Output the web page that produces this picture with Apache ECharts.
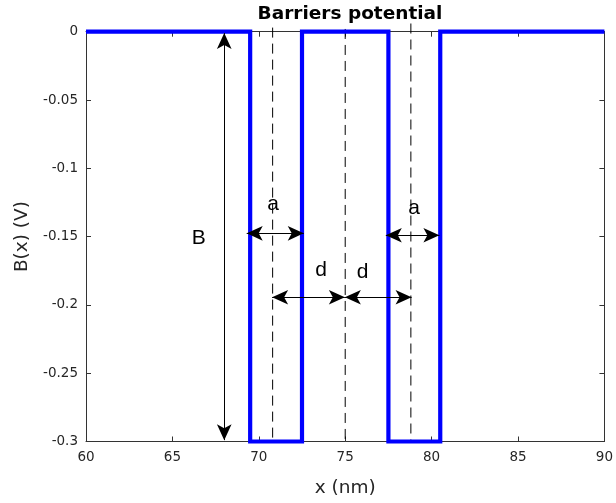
<!DOCTYPE html>
<html><head><meta charset="utf-8">
<script src="https://cdn.jsdelivr.net/npm/echarts@6/dist/echarts.min.js"></script>
<style>html,body{margin:0;padding:0;background:#fff}#c{width:616px;height:503px}</style>
</head><body><div id="c"></div>
<script>
// Potential profile (x in nm, B in V)
const xPoints = [60, 69.5, 69.5, 72.5, 72.5, 77.5, 77.5, 80.5, 80.5, 90];
const bValues = [0, 0, -0.3, -0.3, 0, 0, -0.3, -0.3, 0, 0];
// Dashed guide lines
const dashedX = [70.8, 75, 78.8];
const dashedTop = [0.003, 0.002, 0.006];
const dashedBottom = [-0.3, -0.3, -0.3];
// Double arrows (start / end in data coordinates)
const arrowStartX = [68.0, 69.3, 77.35, 70.77, 74.98];
const arrowStartY = [-0.001, -0.1476, -0.149, -0.1944, -0.1944];
const arrowEndX = [68.0, 72.6, 80.45, 74.98, 78.84];
const arrowEndY = [-0.299, -0.1476, -0.149, -0.1944, -0.1944];
// Annotation labels
const labelTexts = ['B', 'a', 'a', 'd', 'd'];
const labelX = [66.52, 70.82, 78.98, 73.6, 76.0];
const labelY = [-0.1512, -0.1261, -0.129, -0.1745, -0.176];

const FONT = 'DejaVu Sans';
const AX = '#333';
const HEAD = [11, 16];

const stepData = xPoints.map((x, i) => [x, bValues[i]]);
const dashedSeries = dashedX.map((x, i) => ({
  type: 'line', data: [[x, dashedTop[i]], [x, dashedBottom[i]]],
  showSymbol: false, symbol: 'none', clip: false, silent: true,
  lineStyle: { color: '#000', width: 1, type: [10, 6] }, z: 1
}));
const arrowData = arrowStartX.map((x, i) => [
  { coord: [x, arrowStartY[i]], symbolSize: HEAD },
  { coord: [arrowEndX[i], arrowEndY[i]], symbolSize: HEAD }
]);
const labelData = labelTexts.map((t, i) => [labelX[i], labelY[i], i]);

const axisCommon = {
  type: 'value',
  axisLine: { show: true, onZero: false, lineStyle: { color: AX, width: 1 } },
  axisTick: { show: true, inside: true, length: 5, lineStyle: { color: AX, width: 1 } },
  splitLine: { show: false }
};

const chart = echarts.init(document.getElementById('c'), null, { renderer: 'canvas' });
chart.setOption({
  animation: false,
  backgroundColor: '#fff',
  title: {
    text: 'Barriers potential', left: 345, top: 0, textAlign: 'center',
    textStyle: { fontFamily: FONT, fontSize: 18.5, fontWeight: 'bold', color: '#000' }
  },
  grid: { left: 86, right: 10, top: 31.7, bottom: 61.5 },
  xAxis: [
    Object.assign({}, axisCommon, {
      min: 60, max: 90, interval: 5, position: 'bottom',
      name: 'x (nm)', nameLocation: 'middle', nameGap: 37,
      nameTextStyle: { fontFamily: FONT, fontSize: 18.5, color: '#262626' },
      axisLabel: { fontFamily: FONT, fontSize: 13.5, color: '#262626', margin: 9 }
    }),
    Object.assign({}, axisCommon, {
      min: 60, max: 90, interval: 5, position: 'top', axisLabel: { show: false }
    })
  ],
  yAxis: [
    Object.assign({}, axisCommon, {
      min: -0.3, max: 0, interval: 0.05, position: 'left',
      name: 'B(x) (V)', nameLocation: 'middle', nameGap: 52,
      nameTextStyle: { fontFamily: FONT, fontSize: 18.5, color: '#262626' },
      axisLabel: { fontFamily: FONT, fontSize: 13.5, color: '#262626', margin: 8 }
    }),
    Object.assign({}, axisCommon, {
      min: -0.3, max: 0, interval: 0.05, position: 'right', axisLabel: { show: false }
    })
  ],
  series: [
    ...dashedSeries,
    {
      type: 'line', data: stepData, showSymbol: false, symbol: 'none', clip: false,
      lineStyle: { color: '#0000ff', width: 4.2, join: 'miter', cap: 'butt' }, z: 3
    },
    {
      type: 'line', data: [], silent: true,
      markLine: {
        silent: true, animation: false,
        symbol: ['arrow', 'arrow'], symbolSize: 13,
        label: { show: false },
        lineStyle: { color: '#000', width: 1, type: 'solid' },
        emphasis: { disabled: true },
        data: arrowData
      }, z: 4
    },
    {
      type: 'custom', data: labelData, silent: true, z: 5, clip: false,
      renderItem: function (params, api) {
        const p = api.coord([api.value(0), api.value(1)]);
        return {
          type: 'text', x: p[0], y: p[1],
          style: {
            text: labelTexts[api.value(2)], fill: '#000',
            font: '21px "Liberation Sans"', align: 'center', verticalAlign: 'middle'
          }
        };
      }
    }
  ]
});
</script></body></html>
